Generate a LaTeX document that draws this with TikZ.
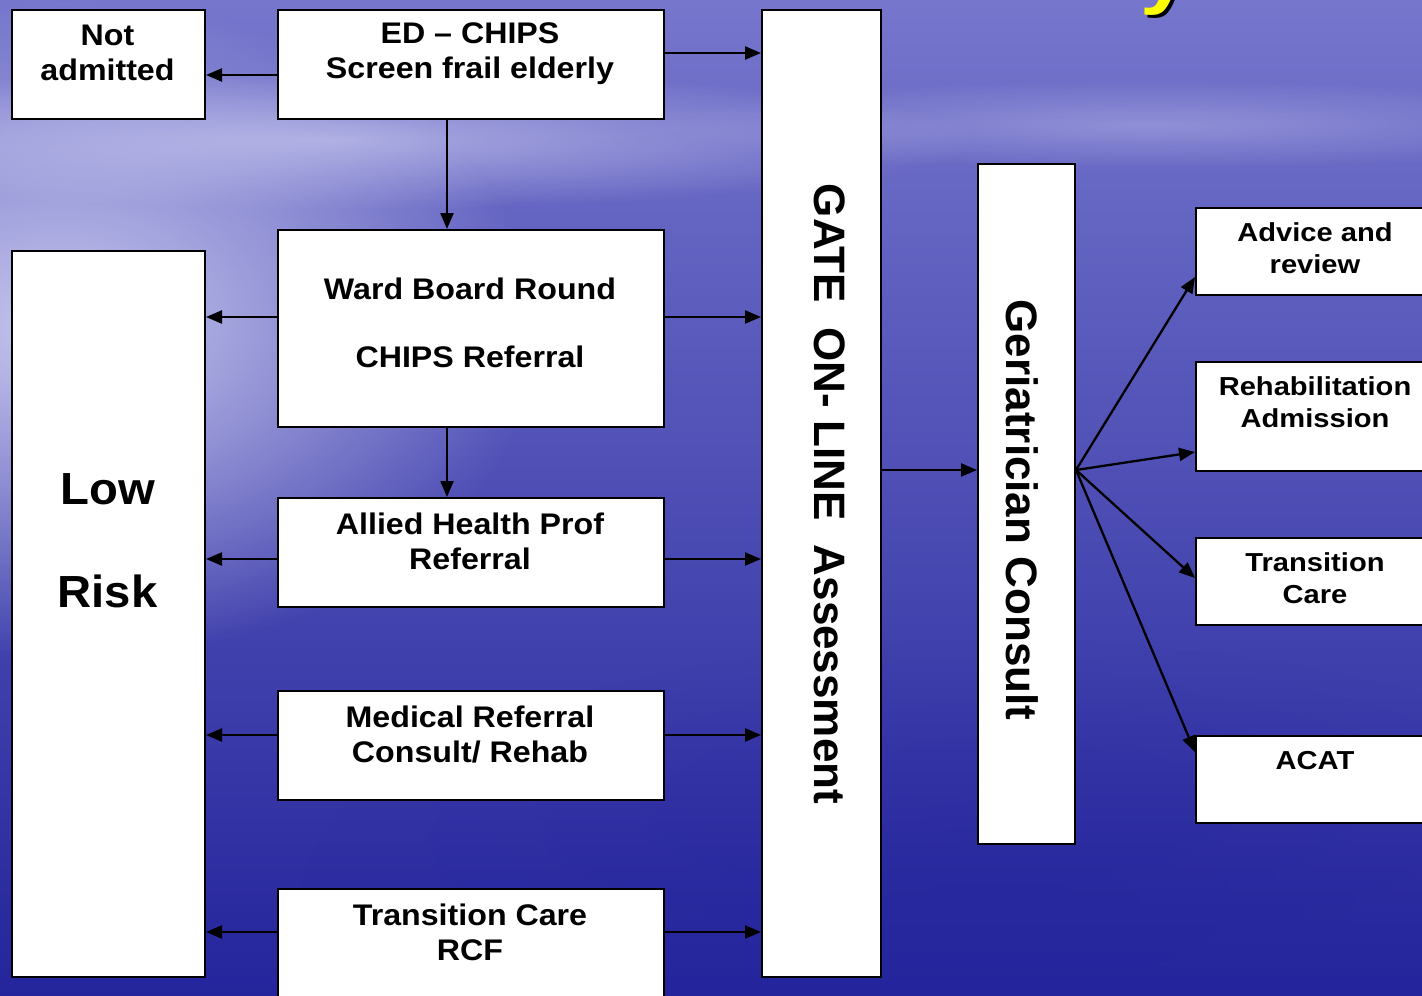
\documentclass[tikz,border=0pt]{standalone}
\usepackage{fontspec}
\setmainfont{Liberation Sans}
\newfontfamily\midfont[FakeStretch=1.08]{Liberation Sans}
\newfontfamily\rightfont[FakeStretch=1.12]{Liberation Sans}
\newfontfamily\lowfont[FakeStretch=1.05]{Liberation Sans}
\newfontfamily\vertfont{Liberation Sans}
\newfontfamily\titlefont[FakeStretch=1.2]{Liberation Sans}
\usetikzlibrary{arrows.meta,calc,fadings}
\definecolor{bgtop}{RGB}{118,118,205}
\definecolor{bgmid}{RGB}{78,78,184}
\definecolor{bgbot}{RGB}{36,36,156}
\definecolor{lav}{RGB}{212,212,244}
\definecolor{ttlyellow}{RGB}{255,255,0}
\tikzfading[name=softglow, inner color=transparent!0, outer color=transparent!100]
\tikzset{
  box/.style={draw=black, line width=2pt, fill=white, inner sep=0pt, anchor=north west},
  arr/.style={line width=2.3pt, -{Triangle[length=16pt,width=13pt]}},
  midtxt/.style={align=center, inner sep=0pt, font=\midfont\fontsize{29.8}{35}\bfseries},
  righttxt/.style={align=center, inner sep=0pt, font=\rightfont\fontsize{26}{32}\bfseries},
  lowtxt/.style={align=center, inner sep=0pt, font=\lowfont\fontsize{45}{103}\bfseries},
  verttxt/.style={inner sep=0pt, rotate=-90, font=\vertfont\fontsize{44}{50}\bfseries}
}
\begin{document}
\begin{tikzpicture}[x=1pt,y=-1pt]
\useasboundingbox (0,0) rectangle (1422,996);
\clip (0,0) rectangle (1422,996);
% background
\shade[top color=bgtop, middle color=bgmid, bottom color=bgbot] (0,0) rectangle (1422,996);
\fill[lav, path fading=softglow, opacity=0.9] (60,330) ellipse (480 and 330);
\fill[lav, path fading=softglow, opacity=0.6] (330,140) ellipse (650 and 70);
\fill[lav, path fading=softglow, opacity=0.35] (1150,125) ellipse (500 and 45);
\fill[bgbot, path fading=softglow, opacity=0.5] (1000,900) ellipse (700 and 260);
% title fragment
\node[font=\titlefont\fontsize{72}{80}\bfseries, text=black, anchor=base, inner sep=0pt] (tys) at (1168,3) {y};
\node[font=\titlefont\fontsize{72}{80}\bfseries, text=ttlyellow, anchor=base, inner sep=0pt] (ty) at (1165,0) {y};
% boxes
\node[box, minimum width=193pt, minimum height=109pt] (na) at (11,9) {};
\node[box, minimum width=386pt, minimum height=109pt] (ed) at (277,9) {};
\node[box, minimum width=386pt, minimum height=197pt] (ward) at (277,229) {};
\node[box, minimum width=386pt, minimum height=109pt] (ahp) at (277,497) {};
\node[box, minimum width=386pt, minimum height=109pt] (med) at (277,690) {};
\node[box, minimum width=386pt, minimum height=140pt] (tcr) at (277,888) {};
\node[box, minimum width=193pt, minimum height=726pt] (low) at (11,250) {};
\node[box, minimum width=119pt, minimum height=967pt] (gate) at (761,9) {};
\node[box, minimum width=97pt, minimum height=680pt] (ger) at (977,163) {};
\node[box, minimum width=240pt, minimum height=87pt] (adv) at (1195,207) {};
\node[box, minimum width=240pt, minimum height=109pt] (reh) at (1195,361) {};
\node[box, minimum width=240pt, minimum height=87pt] (trc) at (1195,537) {};
\node[box, minimum width=240pt, minimum height=87pt] (acat) at (1195,735) {};
% texts
\node[midtxt] (nat) at (107.5,53) {Not\\admitted};
\node[midtxt] (edt) at (470,54) {ED – CHIPS\\Screen frail elderly};
\node[midtxt] (wardt) at (470,323) {Ward Board Round\\[33pt]CHIPS Referral};
\node[midtxt] (ahpt) at (470,541) {Allied Health Prof\\Referral};
\node[midtxt] (medt) at (470,734.5) {Medical Referral\\Consult/ Rehab};
\node[midtxt] (tcrt) at (470,932.5) {Transition Care\\RCF};
\node[lowtxt] (lowt) at (107.5,541) {Low\\Risk};
\node[verttxt] (gatet) at (830,494) {GATE\ \ ON- LINE\ \ Assessment};
\node[verttxt] (gert) at (1022,510) {Geriatrician Consult};
\node[righttxt] (advt) at (1315,248) {Advice and\\review};
\node[righttxt] (reht) at (1315,402) {Rehabilitation\\Admission};
\node[righttxt] (trct) at (1315,578) {Transition\\Care};
\node[righttxt] (acatt) at (1315,761) {ACAT};
% connector anchor points
\coordinate (e1) at ($(ed.east)+(0,-11.5)$);
\coordinate (e2) at ($(ed.west)+(0,10.5)$);
\coordinate (w1) at ($(ward.west)+(0,-11.5)$);
\coordinate (w2) at ($(ward.east)+(0,-11.5)$);
\coordinate (a1) at ($(ahp.west)+(0,6.5)$);
\coordinate (a2) at ($(ahp.east)+(0,6.5)$);
\coordinate (m1) at ($(med.west)+(0,-10.5)$);
\coordinate (m2) at ($(med.east)+(0,-10.5)$);
\coordinate (t1) at ($(tcr.north west)+(0,44)$);
\coordinate (t2) at ($(tcr.north east)+(0,44)$);
\coordinate (g0) at ($(ger.west)+(0,-34)$);
\coordinate (f0) at ($(ger.east)+(0,-34)$);
% connectors
\draw[arr] (e2) -- (na.east |- e2);
\draw[arr] (e1) -- (gate.west |- e1);
\draw[arr] ($(ed.south)+(-24,0)$) -- ($(ward.north)+(-24,0)$);
\draw[arr] (w1) -- (low.east |- w1);
\draw[arr] (w2) -- (gate.west |- w2);
\draw[arr] ($(ward.south)+(-24,0)$) -- ($(ahp.north)+(-24,0)$);
\draw[arr] (a1) -- (low.east |- a1);
\draw[arr] (a2) -- (gate.west |- a2);
\draw[arr] (m1) -- (low.east |- m1);
\draw[arr] (m2) -- (gate.west |- m2);
\draw[arr] (t1) -- (low.east |- t1);
\draw[arr] (t2) -- (gate.west |- t2);
\draw[arr] (gate.east |- g0) -- (g0);
\draw[arr] (f0) -- ($(adv.south west)+(0,-19)$);
\draw[arr] (f0) -- ($(reh.south west)+(0,-20)$);
\draw[arr] (f0) -- ($(trc.north west)+(0,41)$);
\draw[arr] (f0) -- ($(acat.north west)+(0,17)$);
\end{tikzpicture}
\end{document}
